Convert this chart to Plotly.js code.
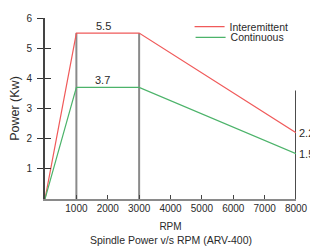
<!DOCTYPE html>
<html>
<head>
<meta charset="utf-8">
<script src="https://cdn.plot.ly/plotly-3.0.1.min.js"></script>
<style>html,body{margin:0;padding:0;background:#fff;}#chart{width:310px;height:249px;}</style>
</head>
<body>
<div id="chart"></div>
<script>
// Data
const rpm = [0, 1000, 3000, 8000];
const intermittent = [0, 5.5, 5.5, 2.2];
const continuous = [0, 3.7, 3.7, 1.5];
const seriesNames = ['Interemittent', 'Continuous'];
const xTicks = [1000, 2000, 3000, 4000, 5000, 6000, 7000, 8000];
const yTicks = [1, 2, 3, 4, 5, 6];
const markerLineTop = 3.6; // black reference line at 8000 rpm

const font = 'Liberation Sans, Arial, sans-serif';
const txt = '#2a2a2a';

const traces = [
  {x: [rpm[1], rpm[1]], y: [0, intermittent[1]], mode: 'lines', line: {color: '#8a8a8a', width: 2}, showlegend: false, hoverinfo: 'skip'},
  {x: [rpm[2], rpm[2]], y: [0, intermittent[2]], mode: 'lines', line: {color: '#8a8a8a', width: 2}, showlegend: false, hoverinfo: 'skip'},
  {x: [rpm[3], rpm[3]], y: [0, markerLineTop], mode: 'lines', line: {color: '#111', width: 1.5}, showlegend: false, hoverinfo: 'skip'},
  {x: rpm, y: intermittent, name: seriesNames[0], mode: 'lines', line: {color: '#f05a5a', width: 1.2}, legend: 'legend'},
  {x: rpm, y: continuous, name: seriesNames[1], mode: 'lines', line: {color: '#4cb36a', width: 1.2}, legend: 'legend2'},
  {x: [0], y: [0], yaxis: 'y2', mode: 'markers', marker: {opacity: 0}, showlegend: false, hoverinfo: 'skip'}
];

const annotations = [
  {x: (rpm[1] + rpm[2]) / 2, y: intermittent[1], text: String(intermittent[1]), showarrow: false, yanchor: 'bottom', xshift: -4, yshift: -1, font: {family: font, size: 11, color: txt}},
  {x: (rpm[1] + rpm[2]) / 2, y: continuous[1], text: String(continuous[1]), showarrow: false, yanchor: 'bottom', xshift: -5, yshift: -1, font: {family: font, size: 11, color: txt}},
  {x: rpm[3], y: intermittent[3], text: String(intermittent[3]), showarrow: false, xanchor: 'left', xshift: 1, font: {family: font, size: 11, color: txt}},
  {x: rpm[3], y: continuous[3], text: String(continuous[3]), showarrow: false, xanchor: 'left', xshift: 1, font: {family: font, size: 11, color: txt}},
  {x: 0.5, xref: 'paper', y: 0, yref: 'paper', yshift: -41, yanchor: 'middle', text: 'Spindle Power v/s RPM (ARV-400)', showarrow: false, font: {family: font, size: 10.5, color: txt}}
];

const legendBase = {xanchor: 'left', yanchor: 'top', bgcolor: 'rgba(0,0,0,0)', font: {family: font, size: 10.5, color: txt}};

const layout = {
  width: 310, height: 249,
  margin: {l: 45, r: 14, t: 14, b: 50},
  paper_bgcolor: '#fff', plot_bgcolor: '#fff',
  font: {family: font, size: 10, color: txt},
  showlegend: true,
  legend: Object.assign({x: 0.576, y: 1.032}, legendBase),
  legend2: Object.assign({x: 0.58, y: 0.973}, legendBase),
  xaxis: {
    range: [0, 8000], tickvals: xTicks, ticktext: xTicks.map(String),
    ticks: 'inside', ticklen: 4, tickcolor: '#444', tickwidth: 1,
    ticklabelstandoff: -1,
    showgrid: false, zeroline: false, showline: true, linecolor: '#8a8a8a', linewidth: 2,
    tickfont: {family: font, size: 10, color: txt},
    title: {text: 'RPM', font: {family: font, size: 10, color: txt}, standoff: 10}
  },
  yaxis: {
    range: [0, 6], tickvals: yTicks, ticktext: yTicks.map(String),
    ticks: 'outside', ticklen: 6, tickcolor: '#333', tickwidth: 1,
    ticklabelstandoff: 3,
    showgrid: false, zeroline: false, showline: true, linecolor: '#444', linewidth: 2,
    tickfont: {family: font, size: 10, color: txt},
    title: {text: 'Power (Kw)', font: {family: font, size: 12.5, color: txt}, standoff: 4}
  },
  yaxis2: {
    overlaying: 'y', side: 'left', range: [0, 6], tickvals: yTicks,
    ticks: 'inside', ticklen: 6, tickcolor: '#333', tickwidth: 1,
    showticklabels: false, showgrid: false, zeroline: false, showline: false
  },
  annotations: annotations
};

Plotly.newPlot('chart', traces, layout, {displayModeBar: false, staticPlot: true});
</script>
</body>
</html>
